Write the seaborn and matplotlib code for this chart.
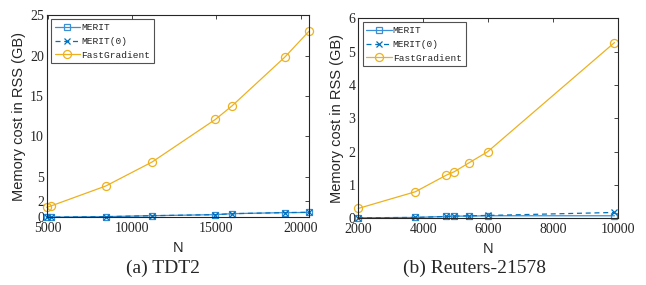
import matplotlib
matplotlib.use("Agg")
import matplotlib.pyplot as plt
import seaborn as sns
import pandas as pd

# ---- data ----
tdt2_n = [4950, 5200, 8450, 11200, 14950, 15950, 19050, 20500]
tdt2_merit = [0.02, 0.02, 0.08, 0.20, 0.33, 0.45, 0.58, 0.60]
tdt2_merit0 = [0.02, 0.02, 0.08, 0.20, 0.33, 0.45, 0.58, 0.62]
tdt2_fast = [1.24, 1.40, 3.87, 6.84, 12.1, 13.8, 19.77, 23.0]

reut_n = [2000, 3760, 4720, 4960, 5420, 5990, 9900]
reut_merit = [0.02, 0.03, 0.06, 0.07, 0.07, 0.08, 0.08]
reut_merit0 = [0.02, 0.03, 0.06, 0.07, 0.08, 0.09, 0.18]
reut_fast = [0.30, 0.80, 1.30, 1.40, 1.67, 2.00, 5.27]

series_names = ["MERIT", "MERIT(0)", "FastGradient"]
tdt2_xticks = [5000, 10000, 15000, 20000]
tdt2_yticks = [0, 2, 5, 10, 15, 20, 25]
reut_xticks = [2000, 4000, 6000, 8000, 10000]
reut_yticks = [0, 1, 2, 3, 4, 5, 6]
captions = ["(a) TDT2", "(b) Reuters-21578"]

sns.set_style("white")
plt.rcParams["font.family"] = ["Liberation Serif", "DejaVu Serif"]

fig = plt.figure(figsize=(6.46, 2.85), dpi=100)
ax1 = fig.add_axes([0.0723, 0.2375, 0.406, 0.7095])
ax2 = fig.add_axes([0.5546, 0.2335, 0.4016, 0.7025])

styles = {
    "MERIT": dict(color="#3a8fd6", marker="s", linestyle="-", ms=4.2),
    "MERIT(0)": dict(color="#0072BD", marker="x", linestyle=(0, (4, 3)), ms=4),
    "FastGradient": dict(color="#EDB120", marker="o", linestyle="-", ms=5.8),
}


def draw(ax, n, merit, merit0, fast, xticks, yticks, xlim, ylim):
    df = pd.DataFrame({"N": n * 3,
                       "mem": merit + merit0 + fast,
                       "method": [series_names[0]] * len(n) + [series_names[1]] * len(n) + [series_names[2]] * len(n)})
    for name in series_names:
        st = styles[name]
        sub = df[df["method"] == name]
        sns.lineplot(data=sub, x="N", y="mem", ax=ax, color=st["color"], linewidth=0.9,
                     marker=st["marker"], markersize=st["ms"], markerfacecolor="none",
                     markeredgecolor=st["color"], markeredgewidth=0.9,
                     linestyle=st["linestyle"], label=name, sort=False, clip_on=False)
    ax.set_xlim(*xlim)
    ax.set_ylim(*ylim)
    ax.set_xticks(xticks)
    ax.set_yticks(yticks)
    ax.set_xticklabels([str(t) for t in xticks], fontsize=10)
    ax.set_yticklabels([str(t) for t in yticks], fontsize=10)
    ax.tick_params(direction="in", top=True, right=True, length=3, width=0.6, colors="#262626")
    ax.tick_params(axis="x", pad=3.5)
    ax.tick_params(axis="y", pad=2)
    for s in ax.spines.values():
        s.set_visible(True)
        s.set_color("#262626")
        s.set_linewidth(0.8)
    ax.set_xlabel("N", fontfamily="Liberation Sans", fontsize=10.5, labelpad=4)
    ax.set_ylabel("Memory cost in RSS (GB)", fontfamily="Liberation Sans", fontsize=10.5, labelpad=3)
    leg = ax.legend(loc="upper left", prop={"family": "Liberation Mono", "size": 6.8},
                    handlelength=2.7, handletextpad=0.1, borderpad=0.4, labelspacing=0.5,
                    fancybox=False, frameon=True, borderaxespad=0.45)
    leg.get_frame().set_edgecolor("#262626")
    leg.get_frame().set_linewidth(0.8)


draw(ax1, tdt2_n, tdt2_merit, tdt2_merit0, tdt2_fast, tdt2_xticks, tdt2_yticks, (4950, 20500), (0, 25))
draw(ax2, reut_n, reut_merit, reut_merit0, reut_fast, reut_xticks, reut_yticks, (2000, 10000), (0, 6))

fig.text(0.253, 0.058, captions[0], ha="center", va="center", fontsize=14)
fig.text(0.735, 0.058, captions[1], ha="center", va="center", fontsize=14)

fig.savefig("out.png", dpi=100)
